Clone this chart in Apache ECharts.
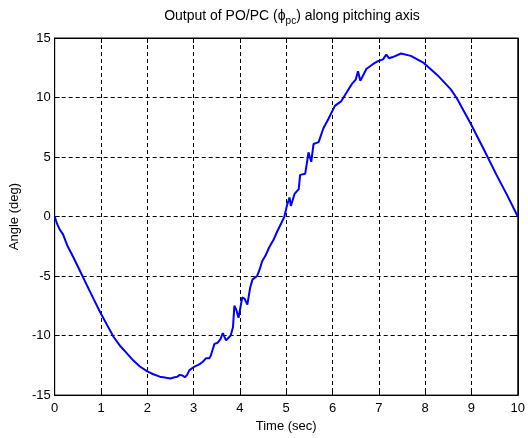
<!DOCTYPE html>
<html>
<head>
<meta charset="utf-8">
<script src="https://cdn.jsdelivr.net/npm/echarts@6/dist/echarts.min.js"></script>
<style>html,body{margin:0;padding:0;background:#fff}#c{width:528px;height:438px}</style>
</head>
<body>
<div id="c"></div>
<script>
const timeSec = [0, 0.05, 0.11, 0.18, 0.28, 0.4, 0.5, 0.7, 0.85, 0.985, 1.13, 1.27, 1.42, 1.56, 1.7, 1.84, 2.0, 2.13, 2.27, 2.41, 2.5, 2.59, 2.65, 2.70, 2.76, 2.81, 2.86, 2.91, 3.02, 3.13, 3.2, 3.27, 3.34, 3.37, 3.45, 3.52, 3.58, 3.63, 3.70, 3.75, 3.80, 3.85, 3.88, 3.92, 3.97, 4.05, 4.1, 4.16, 4.22, 4.27, 4.37, 4.43, 4.48, 4.55, 4.63, 4.72, 4.8, 4.9, 4.96, 5.02, 5.07, 5.1, 5.18, 5.27, 5.30, 5.41, 5.45, 5.48, 5.54, 5.59, 5.70, 5.80, 5.91, 6.05, 6.19, 6.30, 6.41, 6.50, 6.55, 6.60, 6.64, 6.73, 6.87, 6.98, 7.09, 7.16, 7.22, 7.30, 7.48, 7.69, 7.97, 8.26, 8.55, 8.69, 8.97, 9.26, 9.54, 9.77, 10];
const angleDeg = [0, -0.6, -1.1, -1.5, -2.5, -3.4, -4.2, -5.8, -7.0, -8.06, -9.1, -10.1, -10.9, -11.5, -12.1, -12.6, -13.0, -13.25, -13.45, -13.55, -13.6, -13.5, -13.45, -13.3, -13.35, -13.5, -13.3, -12.9, -12.6, -12.4, -12.2, -11.9, -11.9, -11.7, -10.7, -10.6, -10.3, -9.8, -10.4, -10.2, -10.0, -9.3, -7.5, -7.8, -8.5, -6.8, -6.9, -7.4, -6.0, -5.3, -5.0, -4.4, -3.75, -3.3, -2.6, -2.0, -1.3, -0.5, 0.0, 1.0, 1.6, 0.9, 1.9, 2.3, 3.5, 3.6, 4.6, 5.4, 4.6, 6.1, 6.25, 7.4, 8.2, 9.3, 9.7, 10.4, 11.1, 11.5, 12.2, 11.4, 11.7, 12.4, 12.8, 13.05, 13.2, 13.6, 13.3, 13.4, 13.7, 13.5, 12.9, 11.9, 10.7, 9.9, 7.9, 5.7, 3.5, 1.8, 0];
const xTicks = {min: 0, max: 10, interval: 1};
const yTicks = {min: -15, max: 15, interval: 5};

const font = 'Liberation Sans, Arial, sans-serif';
const seriesData = timeSec.map((t, i) => [t, angleDeg[i]]);
const chart = echarts.init(document.getElementById('c'), null, {renderer: 'canvas'});
const gridLine = {show: true, lineStyle: {color: '#000', type: [4, 3], width: 1}};
const tick = {show: true, inside: true, length: 5, lineStyle: {color: '#000'}};
chart.setOption({
  animation: false,
  backgroundColor: '#fff',
  title: {
    text: '{n|Output of PO/PC (ϕ}{s|pc}{n|) along pitching axis}',
    left: 287, top: 2, textAlign: 'center',
    textStyle: {
      fontFamily: font, fontSize: 14, fontWeight: 'normal', color: '#000',
      rich: {
        n: {fontFamily: font, fontSize: 14, color: '#000'},
        s: {fontFamily: font, fontSize: 10, color: '#000', padding: [9, 0, 0, 0]}
      }
    }
  },
  grid: {left: 54, right: 7, top: 38, bottom: 40, show: true, borderColor: '#000', borderWidth: 1},
  xAxis: [{
    type: 'value', min: xTicks.min, max: xTicks.max, interval: xTicks.interval,
    name: 'Time (sec)', nameLocation: 'middle', nameGap: 18,
    nameTextStyle: {fontFamily: font, fontSize: 13, color: '#000'},
    axisLine: {show: true, onZero: false, lineStyle: {color: '#000'}},
    axisTick: tick,
    axisLabel: {fontFamily: font, fontSize: 13, color: '#000', margin: 7},
    splitLine: gridLine
  }, {
    type: 'value', position: 'top', min: xTicks.min, max: xTicks.max, interval: xTicks.interval,
    axisLine: {show: true, onZero: false, lineStyle: {color: '#000'}}, axisTick: tick,
    axisLabel: {show: false}, splitLine: {show: false}
  }],
  yAxis: [{
    type: 'value', min: yTicks.min, max: yTicks.max, interval: yTicks.interval,
    name: 'Angle (deg)', nameLocation: 'middle', nameGap: 30,
    nameTextStyle: {fontFamily: font, fontSize: 13, color: '#000'},
    axisLine: {show: true, onZero: false, lineStyle: {color: '#000'}},
    axisTick: tick,
    axisLabel: {fontFamily: font, fontSize: 13, color: '#000', margin: 4},
    splitLine: gridLine
  }, {
    type: 'value', position: 'right', min: yTicks.min, max: yTicks.max, interval: yTicks.interval,
    axisLine: {show: true, onZero: false, lineStyle: {color: '#000'}}, axisTick: tick,
    axisLabel: {show: false}, splitLine: {show: false}
  }],
  series: [{
    type: 'line', data: seriesData, showSymbol: false, smooth: false,
    lineStyle: {color: '#0000ff', width: 2}, itemStyle: {color: '#0000ff'}
  }]
});
</script>
</body>
</html>
